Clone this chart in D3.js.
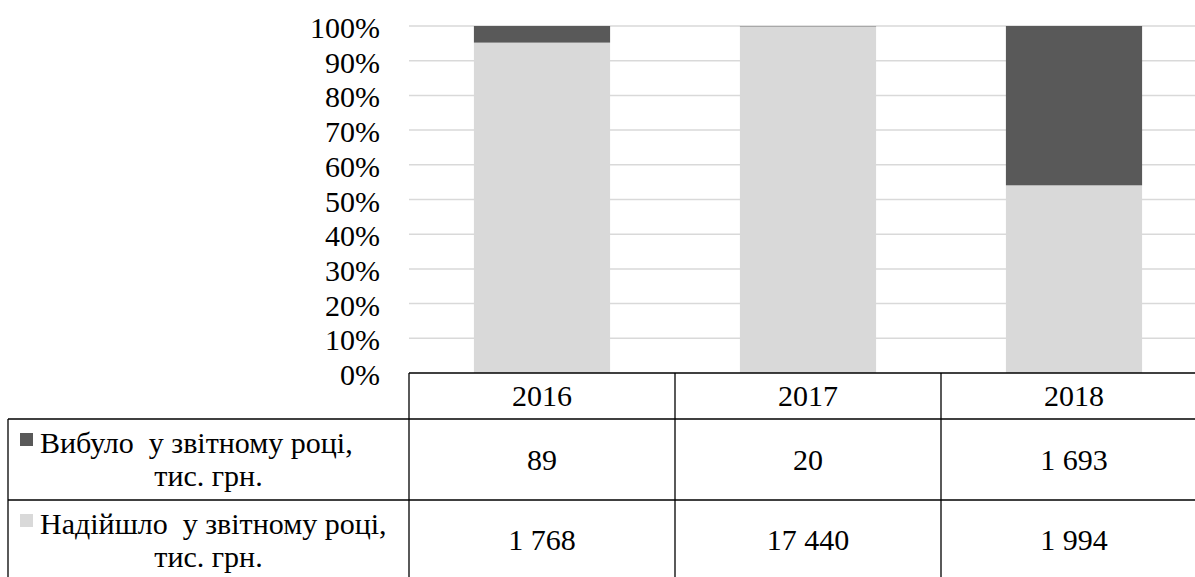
<!DOCTYPE html>
<html><head><meta charset="utf-8">
<script src="https://cdn.jsdelivr.net/npm/d3@7"></script>
</head><body style="margin:0">
<svg id="c" width="1195" height="577"></svg>
<script>
const years = ["2016", "2017", "2018"];
const seriesNames = ["Надійшло  у звітному році,", "Вибуло  у звітному році,"];
const unitLabel = "тис. грн.";
const received = [1768, 17440, 1994];
const dropped = [89, 20, 1693];
const tableLabels = ["1 768", "17 440", "1 994"];
const droppedLabels = ["89", "20", "1 693"];
const yTicks = [0, 0.1, 0.2, 0.3, 0.4, 0.5, 0.6, 0.7, 0.8, 0.9, 1];
const colors = {received: "#d9d9d9", dropped: "#595959"};
const fams = ["Liberation Serif", "Tinos"];

const svg = d3.select("#c");
const W = 1195;
const left = 409, colW = 266;
const x = d3.scaleBand().domain(years).range([left, left + colW * years.length]).padding(0);
const y = d3.scaleLinear().domain([0, 1]).range([373, 26]);
const barW = x.bandwidth() * 0.512;
const fs = 30;

function T(sel) {
  return sel.attr("font-size", fs).style("font-family", () => fams.map(f => `'${f}'`).join(", ")).attr("fill", "#000");
}

// gridlines
svg.append("g").selectAll("line").data(yTicks.slice(1)).join("line")
  .attr("x1", left).attr("x2", W).attr("y1", d => y(d)).attr("y2", d => y(d))
  .attr("stroke", "#d9d9d9").attr("stroke-width", 1.5);

// stacked bars
const rows = years.map((yr, i) => ({year: yr, received: received[i], dropped: dropped[i]}));
const stack = d3.stack().keys(["received", "dropped"]).offset(d3.stackOffsetExpand)(rows);
svg.append("g").selectAll("g").data(stack).join("g")
  .attr("fill", d => colors[d.key])
  .selectAll("rect").data(d => d).join("rect")
  .attr("x", d => x(d.data.year) + (x.bandwidth() - barW) / 2)
  .attr("width", barW)
  .attr("y", d => y(d[1]))
  .attr("height", d => y(d[0]) - y(d[1]));

// y axis labels (drawn from the scale's ticks)
const fmt = d3.format(".0%");
svg.append("g").selectAll("text").data(yTicks).join("text")
  .call(T)
  .attr("text-anchor", "end")
  .attr("x", 380).attr("y", d => y(d) + 12)
  .text(d => fmt(d));

// table
const tbl = svg.append("g").attr("stroke", "#000").attr("stroke-width", 1.3);
const rowY = [373, 419, 500, 577];
const right = left + colW * years.length;
tbl.append("line").attr("x1", left).attr("x2", right).attr("y1", rowY[0]).attr("y2", rowY[0]);
tbl.append("line").attr("x1", 8).attr("x2", right).attr("y1", rowY[1]).attr("y2", rowY[1]);
tbl.append("line").attr("x1", 8).attr("x2", right).attr("y1", rowY[2]).attr("y2", rowY[2]);
tbl.append("line").attr("x1", 8).attr("x2", 8).attr("y1", rowY[1]).attr("y2", 600);
tbl.selectAll(".v").data(years.concat(["end"])).join("line")
  .attr("x1", (d, i) => left + i * colW).attr("x2", (d, i) => left + i * colW)
  .attr("y1", rowY[0]).attr("y2", 600);

const cellX = i => x(years[i]) + x.bandwidth() / 2;
svg.append("g").selectAll("text").data(years).join("text").call(T)
  .attr("text-anchor", "middle").attr("x", (d, i) => cellX(i)).attr("y", (rowY[0] + rowY[1]) / 2 + 10).text(d => d);
svg.append("g").selectAll("text").data(droppedLabels).join("text").call(T)
  .attr("text-anchor", "middle").attr("x", (d, i) => cellX(i)).attr("y", (rowY[1] + rowY[2]) / 2 + 10).text(d => d);
svg.append("g").selectAll("text").data(tableLabels).join("text").call(T)
  .attr("text-anchor", "middle").attr("x", (d, i) => cellX(i)).attr("y", (rowY[2] + rowY[3]) / 2 + 11).text(d => d);

// legend cells
const legend = [
  {name: seriesNames[1], color: colors.dropped, top: rowY[1]},
  {name: seriesNames[0], color: colors.received, top: rowY[2]}
];
const cx = (8 + left) / 2;
legend.forEach(l => {
  svg.append("text").call(T).attr("text-anchor", "start").style("white-space", "pre")
    .attr("x", 40).attr("y", l.top + 34).text(l.name);
  svg.append("text").call(T).attr("text-anchor", "middle")
    .attr("x", cx).attr("y", l.top + 67).text(unitLabel);
});
svg.append("g").selectAll("rect").data(legend).join("rect")
  .attr("x", 20).attr("y", d => d.top + 14).attr("width", 13).attr("height", 13).attr("fill", d => d.color);
</script>
</body></html>
